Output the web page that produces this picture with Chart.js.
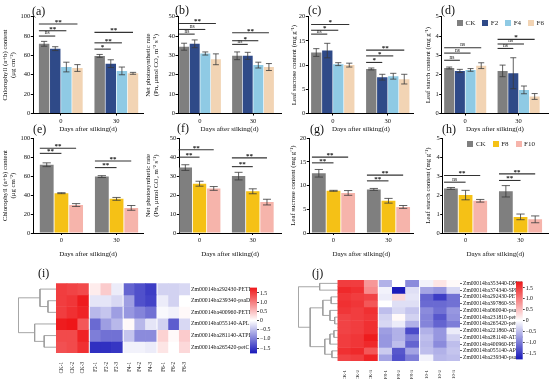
<!DOCTYPE html>
<html>
<head>
<meta charset="utf-8">
<script src="https://cdn.jsdelivr.net/npm/chart.js@4.4.0/dist/chart.umd.min.js"></script>
<style>
  body { margin: 0; background: #fff; }
  #fig { position: relative; width: 550px; height: 379px; overflow: hidden; background: #fff; font-family: 'Liberation Serif', 'Times New Roman', serif; }
  #fig canvas { position: absolute; }
  .tag { position: absolute; font-size: 12px; line-height: 12px; color: #111; white-space: nowrap; }
  .legend { position: absolute; display: flex; align-items: center; font-size: 7px; line-height: 8px; color: #222; }
  .legend .it { display: flex; align-items: center; margin-left: 7px; }
  .legend .sw { display: inline-block; width: 6px; height: 6px; margin-right: 2.5px; }
</style>
</head>
<body>
<div id="fig"></div>
<script>
// ---- data ----
const days = ['0', '30'];
const seriesA = ['CK', 'F2', 'F4', 'F6'];
const seriesB = ['CK', 'F8', 'F10'];
const colorsA = ['#7f7f7f', '#2f4a88', '#8fcae4', '#f2d4b4'];
const colorsB = ['#7f7f7f', '#f5c116', '#f6b4ab'];

// one row per treatment, [day 0, day 30]
const chlA = [[72, 59.5], [67, 51.5], [48, 44], [47, 41.5]];
const chlAErr = [[2.5, 1.5], [2, 4], [5, 4], [3.5, 1]];
const chlASig = [[0, 1, 80, 'ns'], [0, 2, 85.5, '**'], [0, 3, 92.4, '**'], [1, 1, 66.5, '*'], [1, 2, 73, '**'], [1, 3, 83.8, '**']];

const pnA = [[34.5, 29.8], [36, 29.8], [31, 25], [28, 24]];
const pnAErr = [[1.8, 2], [2, 1.8], [0.8, 1.5], [2.8, 1.8]];
const pnASig = [[0, 1, 41, 'ns'], [0, 2, 43.4, 'ns'], [0, 3, 46.5, '**'], [1, 1, 35.7, 'ns'], [1, 2, 37.6, '*'], [1, 3, 41.7, '**']];

const sucA = [[12.6, 9.2], [13, 7.5], [10.2, 7.7], [10, 7.1]];
const sucAErr = [[0.8, 0.2], [1.5, 0.6], [0.3, 0.6], [0.4, 1]];
const sucASig = [[0, 1, 16.4, 'ns'], [0, 2, 17.2, '*'], [0, 3, 18.4, '*'], [1, 1, 10.55, '*'], [1, 2, 11.9, '*'], [1, 3, 13.1, '**']];

const staA = [[2.35, 2.2], [2.2, 2.08], [2.25, 1.22], [2.47, 0.88]];
const staAErr = [[0.05, 0.3], [0.08, 0.8], [0.07, 0.2], [0.15, 0.15]];
const staASig = [[0, 1, 2.75, 'ns'], [0, 2, 3.12, 'ns'], [0, 3, 3.4, 'ns'], [1, 1, 3.36, 'ns'], [1, 2, 3.59, 'ns'], [1, 3, 3.83, '*']];

const chlB = [[72, 59.5], [42, 36], [29.5, 26.5]];
const chlBErr = [[2, 1], [0.5, 1.5], [1.5, 2.5]];
const chlBSig = [[0, 1, 84, '**'], [0, 2, 89.4, '**'], [1, 1, 69, '**'], [1, 2, 76, '**']];

const pnB = [[34.5, 30], [26, 22], [23.5, 16.3]];
const pnBErr = [[1.5, 2], [1.3, 1.3], [1, 1.5]];
const pnBSig = [[0, 1, 40, '**'], [0, 2, 43.9, '**'], [1, 1, 35, '**'], [1, 2, 39.6, '**']];

const sucB = [[12.6, 9.2], [8.9, 6.8], [8.45, 5.5]];
const sucBErr = [[0.8, 0.2], [0.1, 0.5], [0.5, 0.3]];
const sucBSig = [[0, 1, 14.8, '**'], [0, 2, 16, '**'], [1, 1, 11, '**'], [1, 2, 12.2, '**']];

const staB = [[2.35, 2.2], [2.0, 0.85], [1.7, 0.72]];
const staBErr = [[0.05, 0.3], [0.25, 0.15], [0.07, 0.18]];
const staBSig = [[0, 1, 2.68, 'ns'], [0, 2, 3.03, '**'], [1, 1, 2.77, '**'], [1, 2, 3.12, '**']];

// heatmap (i)
const genesI = ['Zm00014ba292430-PETE', 'Zm00014ba239340-psaD', 'Zm00014ba400960-PETE', 'Zm00014ba055140-APL1', 'Zm00014ba281140-ATPD', 'Zm00014ba265420-petC'];
const groupsI = ['CK', 'F2', 'F4', 'F6'];
const heatI = [
  [1.5, 1.45, 1.4, 0.15, 0.4, -0.15, -1.2, -1.35, -1.5, -0.35, -0.35, -0.3],
  [1.5, 1.55, 1.75, -0.2, -0.2, -0.3, -0.75, -1.35, -1.45, -0.15, -0.35, 0.0],
  [1.5, 1.6, 1.7, -0.55, -0.45, -0.75, -0.8, -0.95, -1.1, -0.05, -0.1, 0.05],
  [1.75, 1.8, 1.3, -1.15, -0.75, -0.55, 0.05, -0.55, -0.2, -0.35, -1.25, -0.3],
  [1.4, 1.4, 1.7, -1.0, -1.1, -1.1, -0.45, -0.9, -0.9, 0.35, 0.05, 0.4],
  [1.35, 1.4, 1.6, -1.6, -1.6, -1.55, -0.1, -0.1, -0.15, 0.2, 0.0, 0.3]
];
// merges: [a, b, height]; node ids after the leaves count up from genes.length
const treeI = [[1, 2, 0.22], [0, 6, 0.43], [4, 5, 0.32], [3, 8, 0.57], [7, 9, 1.0]];

// heatmap (j)
const genesJ = ['Zm00014ba353440-DPE2', 'Zm00014ba374340-SPP2', 'Zm00014ba292430-PETE', 'Zm00014ba397860-SS1', 'Zm00014ba060040-psaD', 'Zm00014ba231810-petC',
  'Zm00014ba265420-petC', 'Zm00014ba221860-ATPD', 'Zm00014ba281140-ATPD', 'Zm00014ba400960-PETE', 'Zm00014ba055140-APL1', 'Zm00014ba239340-psaD'];
const groupsJ = ['CK', 'F8', 'F10'];
const heatJ = [
  [1.5, 1.5, 0.8, -0.6, 0.0, -0.9, -0.1, 0.2, 0.05],
  [1.65, 1.6, 0.9, -0.1, -1.75, -0.25, -0.7, -0.8, -0.3],
  [1.55, 1.5, 1.45, -0.15, 0.3, -0.2, -1.2, -1.5, -1.1],
  [1.6, 1.55, 1.3, 0.0, -0.25, -0.25, -1.15, -1.15, -1.1],
  [1.55, 1.5, 1.6, -0.5, -0.3, -0.45, -0.9, -1.1, -0.8],
  [1.45, 1.5, 1.55, -0.35, 0.05, -0.35, -0.95, -1.3, -0.85],
  [1.45, 1.5, 1.6, -0.3, -0.15, -0.6, -0.95, -1.2, -1.0],
  [1.45, 1.5, 1.6, -0.75, -0.6, -1.4, -0.6, -0.8, -0.15],
  [1.5, 1.55, 1.75, -0.8, -0.6, -1.0, -0.5, -0.8, -0.35],
  [1.5, 1.55, 1.65, -0.8, -0.5, -1.2, -0.55, -0.9, -0.5],
  [1.6, 1.65, 1.3, -0.4, -1.3, -0.7, -0.5, -0.6, -0.45],
  [1.45, 1.5, 1.7, -0.7, -1.35, -1.0, -0.1, -0.55, -0.5]
];
const treeJ = [[0, 1, 0.46], [2, 3, 0.17], [5, 6, 0.08], [4, 14, 0.2], [13, 15, 0.38], [7, 8, 0.1], [17, 9, 0.2],
  [10, 11, 0.15], [18, 19, 0.33], [16, 20, 0.7], [12, 21, 1.0]];

const cbRange = [-1.8, 1.8];
const cbTicks = [1.5, 1.0, 0.5, 0, -0.5, -1.0, -1.5];
const lowRGB = [22, 22, 185];
const highRGB = [238, 22, 24];

// ---- helpers ----
Chart.defaults.font.family = "'Liberation Serif', 'Times New Roman', serif";
Chart.defaults.color = '#111';
const fig = document.getElementById('fig');

function addCanvas(left, top, w, h) {
  const c = document.createElement('canvas');
  c.width = w; c.height = h;
  c.style.left = left + 'px'; c.style.top = top + 'px';
  c.style.width = w + 'px'; c.style.height = h + 'px';
  fig.appendChild(c);
  return c;
}

function addTag(text, x, cy) {
  const d = document.createElement('div');
  d.className = 'tag';
  d.textContent = text;
  d.style.left = x + 'px';
  d.style.top = (cy - 6) + 'px';
  fig.appendChild(d);
}

function addLegend(names, colors, right, cy) {
  const d = document.createElement('div');
  d.className = 'legend';
  d.style.right = (550 - right) + 'px';
  d.style.top = (cy - 4) + 'px';
  d.innerHTML = names.map((n, i) => `<span class="it"><span class="sw" style="background:${colors[i]}"></span>${n}</span>`).join('');
  fig.appendChild(d);
}

function heatColor(v) {
  const t = Math.max(-1, Math.min(1, v / cbRange[1]));
  const end = t < 0 ? lowRGB : highRGB;
  const a = Math.abs(t);
  const c = end.map(e => Math.round(255 + (e - 255) * a));
  return `rgb(${c.join(',')})`;
}

const errorBars = {
  id: 'errorBars',
  afterDatasetsDraw(chart) {
    const { ctx, scales: { y } } = chart;
    ctx.save();
    ctx.strokeStyle = '#3a3a3a';
    ctx.lineWidth = 0.8;
    chart.data.datasets.forEach((ds, i) => {
      if (!ds.errors) return;
      chart.getDatasetMeta(i).data.forEach((bar, j) => {
        const v = ds.data[j].y, e = ds.errors[j];
        const top = y.getPixelForValue(v + e), bot = y.getPixelForValue(v - e);
        const w = bar.width * 0.3;
        ctx.beginPath();
        ctx.moveTo(bar.x, top); ctx.lineTo(bar.x, bot);
        ctx.moveTo(bar.x - w, top); ctx.lineTo(bar.x + w, top);
        ctx.moveTo(bar.x - w, bot); ctx.lineTo(bar.x + w, bot);
        ctx.stroke();
      });
    });
    ctx.restore();
  }
};

const sigLines = {
  id: 'sigLines',
  afterDatasetsDraw(chart, args, opts) {
    const { ctx, scales: { y } } = chart;
    ctx.save();
    ctx.strokeStyle = '#333';
    ctx.lineWidth = 1.1;
    ctx.fillStyle = '#111';
    ctx.textAlign = 'center';
    ctx.textBaseline = 'middle';
    (opts.items || []).forEach(([day, s, v, label]) => {
      const ref = chart.getDatasetMeta(0).data[day];
      const tgt = chart.getDatasetMeta(s).data[day];
      const x0 = ref.x - ref.width / 2, x1 = tgt.x;
      const py = y.getPixelForValue(v);
      ctx.beginPath(); ctx.moveTo(x0, py); ctx.lineTo(x1, py); ctx.stroke();
      if (label === 'ns') {
        ctx.font = "5.5px 'Liberation Serif'";
        ctx.fillText(label, (x0 + x1) / 2, py - 3);
      } else {
        ctx.font = "bold 7px 'Liberation Serif'";
        ctx.fillText(label, (x0 + x1) / 2, py - 2);
      }
    });
    ctx.restore();
  }
};

function barPanel(p) {
  const left = Math.floor(p.axisX - p.yw);
  const top = Math.floor(p.top - 14);
  const w = Math.ceil(p.right - left) + 3;
  const h = Math.ceil(p.bottom - top + p.xh);
  const canvas = addCanvas(left, top, w, h);
  const datasets = p.series.map((name, i) => ({
    label: name,
    data: p.means[i].map((v, j) => ({ x: j, y: v })),
    errors: p.errs[i],
    backgroundColor: p.colors[i],
    borderWidth: 0,
    categoryPercentage: 0.8,
    barPercentage: 0.94
  }));
  new Chart(canvas, {
    type: 'bar',
    data: { datasets },
    plugins: [errorBars, sigLines],
    options: {
      responsive: false,
      animation: false,
      layout: { padding: { top: p.top - top, right: w - (p.right - left), left: 0, bottom: 0 } },
      plugins: { legend: { display: false }, tooltip: { enabled: false }, sigLines: { items: p.sigs } },
      scales: {
        x: {
          type: 'linear', min: p.xmin, max: p.xmax, offset: false,
          afterBuildTicks: s => { s.ticks = days.map((d, i) => ({ value: i })); },
          afterFit: s => { s.height = h - (p.bottom - top); },
          ticks: { callback: (v, i) => days[i], font: { size: 6.5 }, padding: 1.5, autoSkip: false, maxRotation: 0 },
          grid: { drawOnChartArea: false, offset: false, tickLength: 2, color: '#000' },
          border: { color: '#000', width: 1 },
          title: { display: true, text: 'Days after silking(d)', font: { size: 7 }, padding: { top: 0, bottom: 1 } }
        },
        y: {
          min: 0, max: p.yMax,
          afterFit: s => { s.width = p.axisX - left; },
          ticks: { stepSize: p.yStep, font: { size: 6.5 }, padding: 0.5 },
          grid: { drawOnChartArea: false, tickLength: 2.5, color: '#000' },
          border: { color: '#000', width: 1 },
          title: { display: true, text: p.yTitle, font: { size: 6.8 }, padding: { top: 1, bottom: 0 } }
        }
      }
    }
  });
}

function dendroPoints(tree, n, scale) {
  const nodes = [];
  for (let i = 0; i < n; i++) nodes.push({ y: i + 0.5, h: 0 });
  const pts = [];
  tree.forEach(([a, b, ht]) => {
    const A = nodes[a], B = nodes[b];
    pts.push({ x: -A.h * scale, y: A.y }, { x: -ht * scale, y: A.y }, { x: -ht * scale, y: B.y }, { x: -B.h * scale, y: B.y }, { x: 0, y: null });
    nodes.push({ y: (A.y + B.y) / 2, h: ht });
  });
  return pts;
}

function heatPanel(p) {
  const reps = p.vals[0].length / p.groups.length;
  const colLabels = [], colPos = [];
  p.groups.forEach((g, gi) => {
    for (let k = 0; k < reps; k++) {
      colLabels.push(`${g}-${k + 1}`);
      colPos.push(gi * reps + k + gi * p.gap + 0.5);
    }
  });
  const xmax = p.groups.length * reps + (p.groups.length - 1) * p.gap;
  const canvas = addCanvas(p.left, p.top, p.w, p.h);
  const datasets = p.vals.map((row, r) => ({
    data: row.map((v, c) => ({ x: colPos[c], y: [r, r + 1] })),
    backgroundColor: row.map(v => heatColor(v)),
    borderWidth: 0,
    grouped: false,
    barPercentage: 1,
    categoryPercentage: 1
  }));
  datasets.push({
    type: 'line',
    data: dendroPoints(p.tree, p.genes.length, p.dendroW),
    borderColor: '#9c9c9c',
    borderWidth: 0.9,
    pointRadius: 0,
    spanGaps: false,
    fill: false,
    tension: 0
  });
  new Chart(canvas, {
    type: 'bar',
    data: { datasets },
    options: {
      responsive: false,
      animation: false,
      layout: { padding: { left: p.padL, top: p.padT, right: 0, bottom: 0 } },
      plugins: { legend: { display: false }, tooltip: { enabled: false } },
      scales: {
        x: {
          type: 'linear', min: -p.dendroW, max: xmax, offset: false,
          afterBuildTicks: s => { s.ticks = colPos.map(v => ({ value: v })); },
          afterFit: s => { s.height = p.xh; },
          ticks: { autoSkip: false, maxRotation: 90, minRotation: 90, font: { size: p.colSize }, padding: 1, callback: (v, i) => colLabels[i] },
          grid: { display: false },
          border: { display: false }
        },
        y: {
          type: 'linear', position: 'right', reverse: true, min: 0, max: p.genes.length,
          afterBuildTicks: s => { s.ticks = p.genes.map((g, r) => ({ value: r + 0.5 })); },
          afterFit: s => { s.width = p.yw; },
          ticks: { autoSkip: false, font: { size: p.labelSize }, padding: 1, callback: (v, i) => p.genes[i] },
          grid: { drawOnChartArea: false, tickLength: p.tickLen, color: '#666' },
          border: { display: false }
        }
      }
    }
  });
}

function colorBar(p) {
  const canvas = addCanvas(p.left, p.top, p.w, p.h);
  new Chart(canvas, {
    type: 'bar',
    data: {
      labels: [''],
      datasets: [{
        data: [cbRange],
        borderWidth: 0,
        barPercentage: 1,
        categoryPercentage: 1,
        backgroundColor: c => {
          const { chart } = c;
          if (!chart.chartArea) return '#fff';
          const y = chart.scales.y;
          const g = chart.ctx.createLinearGradient(0, y.getPixelForValue(cbRange[0]), 0, y.getPixelForValue(cbRange[1]));
          const n = 18;
          for (let i = 0; i <= n; i++) g.addColorStop(i / n, heatColor(cbRange[0] + (cbRange[1] - cbRange[0]) * i / n));
          return g;
        }
      }]
    },
    options: {
      responsive: false,
      animation: false,
      layout: { padding: { left: p.padL, top: p.padT, right: 0, bottom: p.padB } },
      plugins: { legend: { display: false }, tooltip: { enabled: false } },
      scales: {
        x: { display: false },
        y: {
          position: 'right', min: cbRange[0], max: cbRange[1],
          afterBuildTicks: s => { s.ticks = cbTicks.map(v => ({ value: v })); },
          afterFit: s => { s.width = p.yw; },
          ticks: { autoSkip: false, font: { size: 5.8 }, padding: 1, callback: v => v === 0 ? '0' : (v < 0 ? '\u2212' : '') + Math.abs(v).toFixed(1) },
          grid: { drawOnChartArea: false, tickLength: 2, color: '#444' },
          border: { display: false }
        }
      }
    }
  });
}

// ---- bar panels ----
const titleChl = ['Chlorophyll (a+b) content', '(\u03bcg cm\u207b\u00b2)'];
const titlePn = ['Net photosynthetic rate', '(Pn, \u03bcmol CO\u2082 m\u207b\u00b2 s\u207b\u00b9)'];
const titleSuc = 'Leaf sucrose content (mg g\u207b\u00b9)';
const titleSta = 'Leaf starch content (mg g\u207b\u00b9)';

const row1 = { top: 16.7, bottom: 113.5, xh: 20 };
const row2 = { top: 138.2, bottom: 233, xh: 26 };

barPanel({ ...row1, axisX: 33.3, right: 143, xmin: -0.495, xmax: 1.48, yw: 32.4, series: seriesA, colors: colorsA, means: chlA, errs: chlAErr, sigs: chlASig, yMax: 100, yStep: 20, yTitle: titleChl });
barPanel({ ...row1, axisX: 178, right: 281, xmin: -0.415, xmax: 1.528, yw: 34.8, series: seriesA, colors: colorsA, means: pnA, errs: pnAErr, sigs: pnASig, yMax: 50, yStep: 10, yTitle: titlePn });
barPanel({ ...row1, axisX: 308.3, right: 413.5, xmin: -0.445, xmax: 1.468, yw: 18.4, series: seriesA, colors: colorsA, means: sucA, errs: sucAErr, sigs: sucASig, yMax: 20, yStep: 5, yTitle: titleSuc });
barPanel({ ...row1, axisX: 441.7, right: 548, xmin: -0.44, xmax: 1.55, yw: 18.5, series: seriesA, colors: colorsA, means: staA, errs: staAErr, sigs: staASig, yMax: 5, yStep: 1, yTitle: titleSta });

barPanel({ ...row2, axisX: 33.3, right: 143, xmin: -0.51, xmax: 1.48, yw: 32.4, series: seriesB, colors: colorsB, means: chlB, errs: chlBErr, sigs: chlBSig, yMax: 100, yStep: 20, yTitle: titleChl });
barPanel({ ...row2, axisX: 179.3, right: 281, xmin: -0.38, xmax: 1.53, yw: 36.1, series: seriesB, colors: colorsB, means: pnB, errs: pnBErr, sigs: pnBSig, yMax: 50, yStep: 10, yTitle: titlePn });
barPanel({ ...row2, axisX: 309.3, right: 413.5, xmin: -0.44, xmax: 1.455, yw: 20.4, series: seriesB, colors: colorsB, means: sucB, errs: sucBErr, sigs: sucBSig, yMax: 20, yStep: 5, yTitle: titleSuc });
barPanel({ ...row2, axisX: 442.7, right: 548, xmin: -0.416, xmax: 1.5, yw: 19.5, series: seriesB, colors: colorsB, means: staB, errs: staBErr, sigs: staBSig, yMax: 5, yStep: 1, yTitle: titleSta });

addLegend(seriesA, colorsA, 544, 23.3);
addLegend(seriesB, colorsB, 535, 144.3);

// ---- heatmaps ----
heatPanel({ left: 10, top: 278, w: 240, h: 99, padL: 8.3, padT: 5.3, yw: 60, xh: 24, gap: 0.16, dendroW: 3.55,
  genes: genesI, groups: groupsI, vals: heatI, tree: treeI, labelSize: 5.8, colSize: 5.2, tickLen: 0 });
heatPanel({ left: 290, top: 275, w: 240, h: 104, padL: 8.3, padT: 5, yw: 70, xh: 18, gap: 0.13, dendroW: 3.0,
  genes: genesJ, groups: groupsJ, vals: heatJ, tree: treeJ, labelSize: 5.6, colSize: 4.9, tickLen: 2 });
colorBar({ left: 248, top: 283, w: 30, h: 75, padL: 2, padT: 2.7, padB: 3, yw: 21 });
colorBar({ left: 514, top: 277, w: 36, h: 87, padL: 2, padT: 3, padB: 3, yw: 27.3 });

// ---- panel tags ----
addTag('(a)', 32, 11);
addTag('(b)', 175, 10);
addTag('(c)', 308, 10);
addTag('(d)', 441, 9.5);
addTag('(e)', 33, 129);
addTag('(f)', 177, 128);
addTag('(g)', 310, 129);
addTag('(h)', 442, 128.5);
addTag('(i)', 38, 273);
addTag('(j)', 312, 272.5);
</script>
</body>
</html>
